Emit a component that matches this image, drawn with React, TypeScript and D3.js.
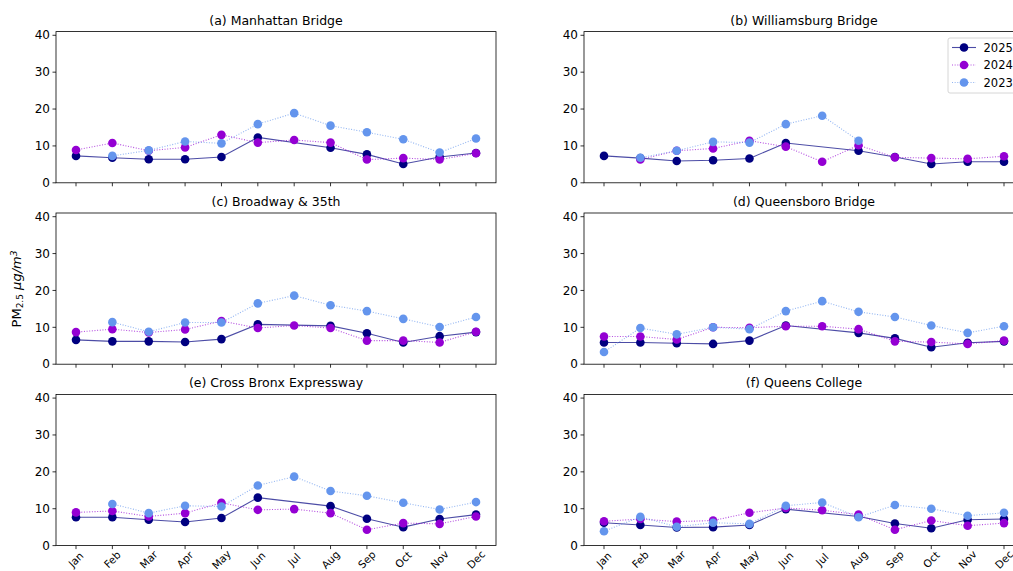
import React, { useEffect, useRef } from 'react';
import * as d3 from 'd3';

const months = ['Jan', 'Feb', 'Mar', 'Apr', 'May', 'Jun', 'Jul', 'Aug', 'Sep', 'Oct', 'Nov', 'Dec'];
const stations = [
  '(a) Manhattan Bridge',
  '(b) Williamsburg Bridge',
  '(c) Broadway & 35th',
  '(d) Queensboro Bridge',
  '(e) Cross Bronx Expressway',
  '(f) Queens College',
];
const years = ['2025', '2024', '2023'];
const yTicks = [0, 10, 20, 30, 40];

// null = no data for that month
const pm2025: (number | null)[][] = [
  [7.3, 6.8, 6.4, 6.4, 7.0, 12.3, null, 9.5, 7.7, 5.1, 7.0, 8.1],
  [7.3, 6.7, 5.9, 6.1, 6.6, 10.8, null, 8.7, 7.0, 5.1, 5.7, 5.7],
  [6.6, 6.2, 6.2, 6.0, 6.8, 10.8, null, 10.4, 8.4, 5.9, 7.6, 8.7],
  [5.9, 5.9, 5.7, 5.5, 6.4, 10.5, null, 8.5, 7.0, 4.6, 5.8, 6.2],
  [7.7, 7.7, 7.0, 6.4, 7.5, 13.0, null, 10.7, 7.3, 5.0, 7.2, 8.4],
  [6.2, 5.6, 4.9, 5.0, 5.6, 9.9, null, 7.9, 6.0, 4.7, 7.0, 7.2],
];
const pm2024: (number | null)[][] = [
  [8.9, 10.8, 8.7, 9.6, 13.0, 10.9, 11.6, 10.9, 6.3, 6.7, 6.3, 8.0],
  [null, 6.3, 8.7, 9.3, 11.4, 9.8, 5.7, 10.2, 6.9, 6.7, 6.5, 7.2],
  [8.7, 9.5, 8.6, 9.4, 11.7, 9.8, 10.5, 9.8, 6.4, 6.4, 5.9, 8.8],
  [7.5, 7.5, 6.7, 10.0, 9.9, 10.3, 10.3, 9.5, 6.2, 6.0, 5.5, 6.4],
  [9.0, 9.4, 7.9, 8.8, 11.6, 9.7, 9.9, 8.8, 4.3, 6.1, 5.9, 7.9],
  [6.6, 7.2, 6.5, 6.8, 8.9, 10.2, 9.6, 8.4, 4.3, 6.8, 5.4, 6.1],
];
const pm2023: (number | null)[][] = [
  [null, 7.3, 8.8, 11.2, 10.7, 15.9, 18.9, 15.5, 13.7, 11.8, 8.2, 12.0],
  [null, 6.8, 8.7, 11.1, 10.9, 15.9, 18.2, 11.4, null, null, null, null],
  [null, 11.4, 8.8, 11.3, 11.3, 16.5, 18.6, 16.0, 14.4, 12.3, 10.1, 12.8],
  [3.3, 9.8, 8.1, 10.0, 9.5, 14.4, 17.1, 14.2, 12.8, 10.5, 8.5, 10.3],
  [null, 11.3, 8.8, 10.8, 10.6, 16.3, 18.7, 14.8, 13.5, 11.6, 9.8, 11.8],
  [3.9, 7.8, 5.1, 6.2, 5.9, 10.8, 11.7, 7.7, 11.0, 10.0, 8.1, 8.9],
];

const seriesData = [pm2025, pm2024, pm2023];
const lineColors = ['#000080', '#9400d3', '#6495ed'];
const dashes = [null, '1,1.65', '1,1.65'];

const font = 'DejaVu Sans, sans-serif';

export default function App() {
  const ref = useRef<SVGSVGElement | null>(null);

  useEffect(() => {
    if (!ref.current) return;
    const svg = d3.select(ref.current);
    svg.selectAll('*').remove();

    const colX = [56, 584];
    const rowY = [31.6, 213, 394.4];
    const w = 440;
    const h = 151.2;

    const x = d3.scaleLinear().domain([-0.55, 11.55]).range([0, w]);
    const y = d3.scaleLinear().domain([0, 41]).range([h, 0]);

    stations.forEach((name, si) => {
      const col = si % 2;
      const row = Math.floor(si / 2);
      const g = svg.append('g').attr('transform', `translate(${colX[col]},${rowY[row]})`);

      // y axis
      yTicks.forEach(t => {
        g.append('line')
          .attr('x1', -3.5).attr('x2', 0)
          .attr('y1', y(t)).attr('y2', y(t))
          .attr('stroke', '#000').attr('stroke-width', 0.8);
        g.append('text')
          .attr('x', -6).attr('y', y(t))
          .attr('dy', '0.35em')
          .attr('text-anchor', 'end')
          .style('font-family', font).style('font-size', '12px')
          .text(t);
      });

      // x ticks, labels only on the bottom row
      months.forEach((m, i) => {
        g.append('line')
          .attr('x1', x(i)).attr('x2', x(i))
          .attr('y1', h).attr('y2', h + 3.5)
          .attr('stroke', '#000').attr('stroke-width', 0.8);
        if (row === 2) {
          const cy = h + 14;
          g.append('text')
            .attr('transform', `translate(${x(i)},${cy}) rotate(-45)`)
            .attr('text-anchor', 'middle')
            .attr('dy', '0.35em')
            .style('font-family', font).style('font-size', '10.5px')
            .text(m);
        }
      });

      // series
      seriesData.forEach((sd, k) => {
        const pts = sd[si]
          .map((v, i) => ({ i, v }))
          .filter(p => p.v !== null) as { i: number; v: number }[];
        const line = d3.line<{ i: number; v: number }>()
          .x(p => x(p.i))
          .y(p => y(p.v));
        const path = g.append('path')
          .attr('d', line(pts))
          .attr('fill', 'none')
          .attr('stroke', lineColors[k])
          .attr('stroke-opacity', 0.7)
          .attr('stroke-width', 1.1);
        if (dashes[k]) path.attr('stroke-dasharray', dashes[k]!);
        g.selectAll(null)
          .data(pts)
          .enter()
          .append('circle')
          .attr('cx', p => x(p.i))
          .attr('cy', p => y(p.v))
          .attr('r', 4.3)
          .attr('fill', lineColors[k]);
      });

      // frame
      g.append('rect')
        .attr('width', w).attr('height', h)
        .attr('fill', 'none')
        .attr('stroke', '#000').attr('stroke-width', 0.8);

      g.append('text')
        .attr('x', w / 2).attr('y', -7)
        .attr('text-anchor', 'middle')
        .style('font-family', font).style('font-size', '12.5px')
        .text(name);

      // legend in panel (b)
      if (si === 1) {
        const lg = g.append('g').attr('transform', `translate(${948 - colX[1]},${38 - rowY[0]})`);
        lg.append('rect')
          .attr('width', 90).attr('height', 55)
          .attr('rx', 2)
          .attr('fill', '#fff').attr('fill-opacity', 0.8)
          .attr('stroke', '#ccc').attr('stroke-width', 0.8);
        years.forEach((yr, k) => {
          const ly = 9.5 + k * 17.5;
          const ln = lg.append('line')
            .attr('x1', 4).attr('x2', 28)
            .attr('y1', ly).attr('y2', ly)
            .attr('stroke', lineColors[k])
            .attr('stroke-opacity', 0.7)
            .attr('stroke-width', 1.1);
          if (dashes[k]) ln.attr('stroke-dasharray', dashes[k]!);
          lg.append('circle')
            .attr('cx', 16).attr('cy', ly).attr('r', 4.3)
            .attr('fill', lineColors[k]);
          lg.append('text')
            .attr('x', 35.5).attr('y', ly)
            .attr('dy', '0.35em')
            .style('font-family', font).style('font-size', '11.5px')
            .text(yr);
        });
      }
    });

    // shared y label
    const yl = svg.append('text')
      .attr('transform', 'translate(21,289) rotate(-90)')
      .attr('text-anchor', 'middle')
      .style('font-family', font).style('font-size', '13px');
    yl.append('tspan').text('PM');
    yl.append('tspan').attr('baseline-shift', '-25%').style('font-size', '9px').text('2.5');
    yl.append('tspan').text(' ');
    yl.append('tspan').style('font-style', 'italic').text('μg/m');
    yl.append('tspan').attr('baseline-shift', '40%').style('font-size', '9px').style('font-style', 'italic').text('3');
  }, []);

  return (
    <svg
      ref={ref}
      width={1013}
      height={571}
      style={{ position: 'absolute', left: 0, top: 0, background: '#fff' }}
    />
  );
}
